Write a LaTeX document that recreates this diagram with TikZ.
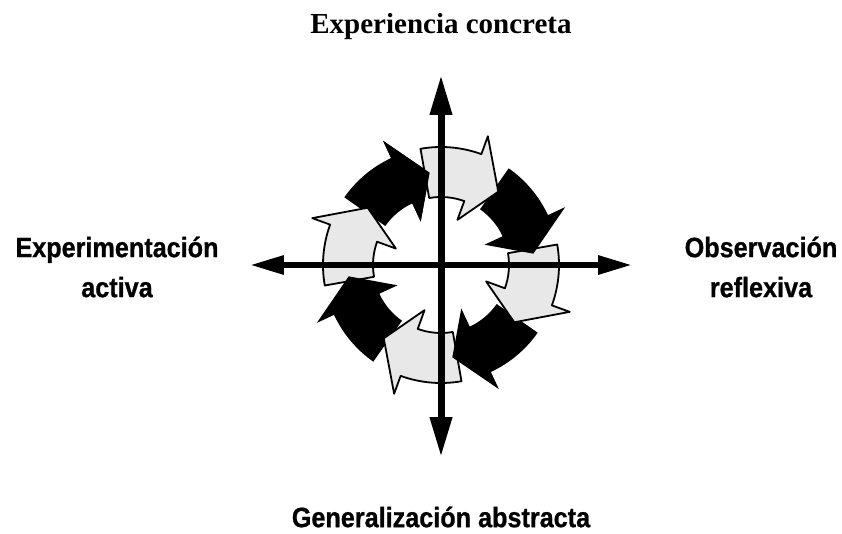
\documentclass[tikz,border=0pt]{standalone}
\usepackage{fontspec}
\setmainfont{Liberation Serif}
\newfontfamily\heavysans{Liberation Sans}[FakeStretch=0.9,FakeBold=0.8]
\usetikzlibrary{arrows.meta}

\tikzset{
  ringdark/.style={fill=black},
  ringlight/.style={fill=gray!18, draw=black, line width=1.8pt, line join=round},
  axisline/.style={line width=7pt, {Triangle[length=40pt,width=21pt]}-{Triangle[length=40pt,width=21pt]}},
  sidelabel/.style={font=\heavysans\bfseries\fontsize{28}{40}\selectfont, align=center},
}

\begin{document}
\begin{tikzpicture}[x=1pt,y=1pt]
  \useasboundingbox (-441,-268) rectangle (401,265);
  % ring of eight arrows, back to front so each head lies on the next tail
  \foreach \t/\s in {145/ringdark,190/ringlight,235/ringdark,280/ringlight,
                     325/ringdark,10/ringlight,55/ringdark,100/ringlight}
    \path[\s] (\t:118) arc[start angle=\t, end angle=\t-30, radius=118]
      -- ({\t-30}:137) -- ({\t-48}:93) -- ({\t-30}:48) -- ({\t-30}:68)
      arc[start angle=\t-30, end angle=\t, radius=68] -- cycle;
  \fill (115:137) -- (97:93) -- (115:48) -- cycle;

  \coordinate (N) at (0,190);
  \coordinate (S) at (0,-192);
  \coordinate (W) at (-191,0);
  \coordinate (E) at (191,0);
  \draw[axisline] (S) -- (N);
  \draw[axisline, line width=6pt, {Triangle[length=34pt,width=18pt]}-{Triangle[length=34pt,width=18pt]}] (W) -- (E);

  \node (concreta) at (0,238) {\fontsize{29}{34}\selectfont\bfseries Experiencia concreta};
  \node[sidelabel] (abstracta) at (0,-252) {Generalización abstracta};
  \node[sidelabel] (activa) at (-324,-2) {Experimentación\\activa};
  \node[sidelabel] (reflexiva) at (320,-2) {Observación\\reflexiva};
\end{tikzpicture}
\end{document}
